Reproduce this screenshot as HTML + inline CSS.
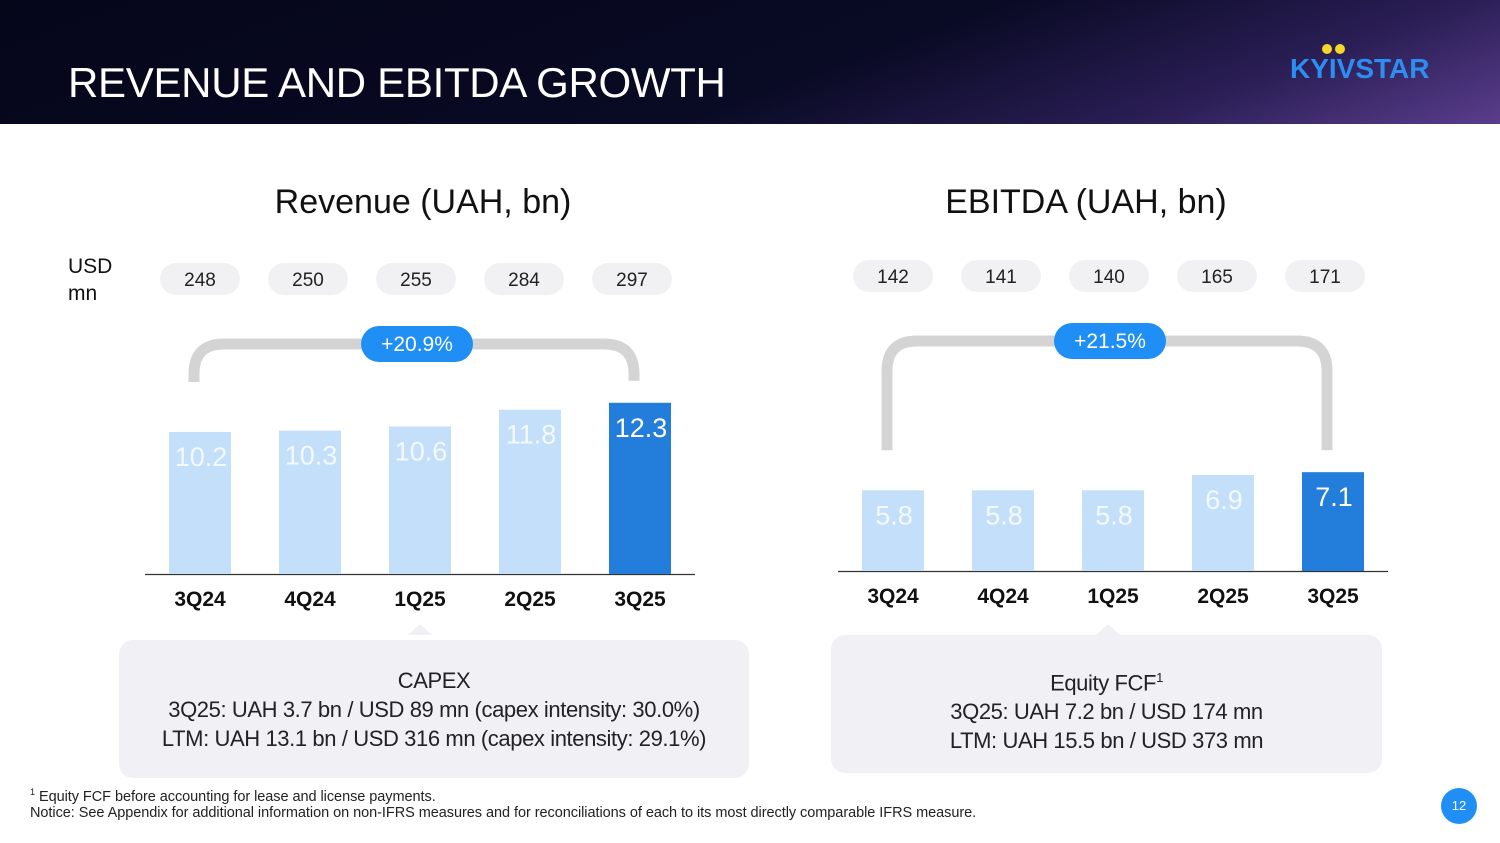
<!DOCTYPE html>
<html><head><meta charset="utf-8"><style>
*{margin:0;padding:0;box-sizing:border-box}
body{width:1500px;height:843px;background:#fff;font-family:"Liberation Sans",sans-serif;position:relative;overflow:hidden;color:#111}
.hdr{position:absolute;left:0;top:0;width:1500px;height:124px;background:linear-gradient(160deg,#05061a 0%,#090a24 55%,#2a1e55 80%,#5a3d8c 100%)}
.title{position:absolute;left:68px;top:59px;color:#fff;font-size:42px;letter-spacing:-0.3px}
.logo{position:absolute;left:1290px;top:53px;color:#2b8ef0;font-weight:bold;font-size:28px;letter-spacing:0px}
.dot{position:absolute;width:10px;height:10px;border-radius:50%;background:#f5d62a;top:44px}
.ctitle{position:absolute;font-size:34px;color:#111;text-align:center;width:400px}
.box{position:absolute;background:#f1f1f5;border-radius:14px;text-align:center;font-size:22px;color:#222;letter-spacing:-0.4px}
.tri{position:absolute;width:0;height:0;border-left:12px solid transparent;border-right:12px solid transparent;border-bottom:11px solid #f1f1f5}
.foot{position:absolute;left:30px;font-size:14.5px;color:#222;letter-spacing:-0.05px}
</style></head><body>
<div class="hdr"></div>
<div class="title">REVENUE AND EBITDA GROWTH</div>
<div class="dot" style="left:1322px"></div>
<div class="dot" style="left:1335px"></div>
<div class="logo">KYIVSTAR</div>

<div class="ctitle" style="left:223px;top:183px">Revenue (UAH, bn)</div>
<div class="ctitle" style="left:886px;top:183px">EBITDA (UAH, bn)</div>
<div style="position:absolute;left:68px;top:253px;font-size:21px;line-height:27px">USD<br>mn</div>

<svg id="chart" width="1500" height="843" style="position:absolute;left:0;top:0"></svg>

<div class="tri" style="left:408px;top:624px"></div>
<div class="box" style="left:119px;top:640px;width:630px;height:138px;padding-top:26px;line-height:29px">CAPEX<br>3Q25: UAH 3.7 bn / USD 89 mn (capex intensity: 30.0%)<br>LTM: UAH 13.1 bn / USD 316 mn (capex intensity: 29.1%)</div>
<div class="tri" style="left:1096px;top:624px"></div>
<div class="box" style="left:831px;top:635px;width:551px;height:138px;padding-top:28px;line-height:29px">Equity FCF<sup style="font-size:13px">1</sup><br>3Q25: UAH 7.2 bn / USD 174 mn<br>LTM: UAH 15.5 bn / USD 373 mn</div>

<div class="foot" style="top:787px"><sup style="font-size:9px">1</sup> Equity FCF before accounting for lease and license payments.</div>
<div class="foot" style="top:805px">Notice: See Appendix for additional information on non-IFRS measures and for reconciliations of each to its most directly comparable IFRS measure.</div>
<div style="position:absolute;left:1441px;top:788px;width:36px;height:36px;border-radius:50%;background:#1f8ff5;color:#fff;font-size:13px;text-align:center;line-height:36px">12</div>

<script>
const categories=["3Q24","4Q24","1Q25","2Q25","3Q25"];
const revenue=[10.2,10.3,10.6,11.8,12.3];
const revenueUsd=["248","250","255","284","297"];
const ebitda=[5.8,5.8,5.8,6.9,7.1];
const ebitdaUsd=["142","141","140","165","171"];
const revenueGrowth="+20.9%";
const ebitdaGrowth="+21.5%";
const svg=document.getElementById('chart');
const NS='http://www.w3.org/2000/svg';
const SCALE=13.92;
function mk(t,a){const e=document.createElementNS(NS,t);for(const k in a)e.setAttribute(k,a[k]);svg.appendChild(e);return e;}
function drawChart(prefix,vals,usd,growth,x0,base,pillY,axisL,axisR,bracketY){
  const x=i=>x0+i*110;
  const y=v=>base-v*SCALE;
  const l=mk('line',{x1:axisL,x2:axisR,y1:base+0.5,y2:base+0.5,stroke:'#333','stroke-width':1.2});
  
  
  vals.forEach((v,i)=>{
    const last=i===vals.length-1;
    const r=mk('rect',{x:x(i)-31,y:y(v),width:62,height:v*SCALE,fill:last?'#237ddb':'#c4dffa'});
    
    
    const t=mk('text',{x:x(i)+1,y:y(v)+34,'text-anchor':'middle','font-size':27,fill:'#fff','fill-opacity':last?1:0.8});
    t.textContent=v.toFixed(1);
    
    
    const c=mk('text',{x:x(i),y:base+32,'text-anchor':'middle','font-size':21,'font-weight':'bold',fill:'#111'});
    c.textContent=categories[i];
    
    
    const px=x(i)-i*2;
    const p=mk('rect',{x:px-40,y:pillY,width:80,height:32,rx:16,fill:'#f1f1f3'});
    
    
    const pt=mk('text',{x:px,y:pillY+23,'text-anchor':'middle','font-size':19,fill:'#222'});
    pt.textContent=usd[i];
    
    
  });
  const xl=x(0)-6,xr=x(vals.length-1)-6,top=bracketY;
  const lowL=prefix==='revenue'?y(vals[0])-50:y(vals[0])-40;
  const lowR=y(vals[vals.length-1])-22;
  const b=mk('path',{d:`M${xl} ${lowL} V${top+30} Q${xl} ${top} ${xl+30} ${top} H${xr-30} Q${xr} ${top} ${xr} ${top+30} V${lowR}`,fill:'none',stroke:'#d4d4d4','stroke-width':11});
  
  
  const cx=(x(0)+x(vals.length-1))/2-3;
  const g=mk('rect',{x:cx-56,y:top-18,width:112,height:36,rx:18,fill:'#1f8ff5'});
  
  
  const gt=mk('text',{x:cx,y:top+7,'text-anchor':'middle','font-size':21,fill:'#fff'});
  gt.textContent=growth;
  
  
}
drawChart('revenue',revenue,revenueUsd,revenueGrowth,200,574,263,145,695,344);
drawChart('ebitda',ebitda,ebitdaUsd,ebitdaGrowth,893,571,260,838,1388,341);
</script>
</body></html>
